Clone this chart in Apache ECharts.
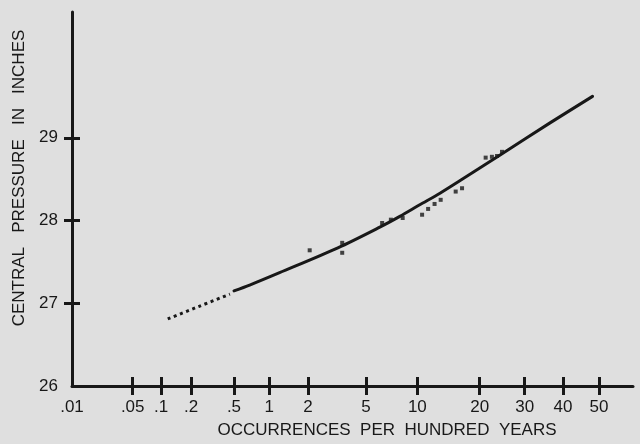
<!DOCTYPE html>
<html><head><meta charset="utf-8">
<script src="https://cdn.jsdelivr.net/npm/echarts@6/dist/echarts.min.js"></script>
<style>html,body{margin:0;padding:0;background:#dfdfdf}#c{width:640px;height:444px}</style>
</head><body><div id="c"></div>
<script>
// Occurrences per hundred years (x, normal-probability scale) and central pressure in inches (y)
const xTickValues = [0.01, 0.05, 0.1, 0.2, 0.5, 1, 2, 5, 10, 20, 30, 40, 50];
const xTickLabels = ['.01', '.05', '.1', '.2', '.5', '1', '2', '5', '10', '20', '30', '40', '50'];
const xRangeN = [0.01, 59.5];
const yTickValues = [26, 27, 28, 29];
const yRange = [26, 30.52];

const solidCurveN = [0.50, 0.685, 1.21, 3.27, 6.1, 8.0, 10.3, 13.1, 16.3, 24.2, 36.5, 48.2];
const solidCurveP = [27.15, 27.22, 27.37, 27.67, 27.92, 28.05, 28.19, 28.33, 28.48, 28.79, 29.18, 29.50];
const dottedCurveN = [0.117, 0.236, 0.46];
const dottedCurveP = [26.81, 26.96, 27.11];
const obsN = [2.06, 3.5, 3.5, 6.3, 7.1, 8.3, 10.6, 11.4, 12.3, 13.2, 15.6, 16.7, 21.2, 22.5, 23.6, 24.7];
const obsP = [27.64, 27.73, 27.61, 27.97, 28.01, 28.03, 28.07, 28.14, 28.20, 28.25, 28.35, 28.39, 28.76, 28.77, 28.78, 28.83];

function probit(p) {
  const a = [-3.969683028665376e+01, 2.209460984245205e+02, -2.759285104469687e+02, 1.383577518672690e+02, -3.066479806614716e+01, 2.506628277459239e+00];
  const b = [-5.447609879822406e+01, 1.615858368580409e+02, -1.556989798598866e+02, 6.680131188771972e+01, -1.328068155288572e+01];
  const c = [-7.784894002430293e-03, -3.223964580411365e-01, -2.400758277161838e+00, -2.549732539343734e+00, 4.374664141464968e+00, 2.938163982698783e+00];
  const d = [7.784695709041462e-03, 3.224671290700398e-01, 2.445134137142996e+00, 3.754408661907416e+00];
  const pl = 0.02425, ph = 1 - pl;
  let q, r;
  if (p < pl) {
    q = Math.sqrt(-2 * Math.log(p));
    return (((((c[0]*q+c[1])*q+c[2])*q+c[3])*q+c[4])*q+c[5]) / ((((d[0]*q+d[1])*q+d[2])*q+d[3])*q+1);
  }
  if (p <= ph) {
    q = p - 0.5; r = q * q;
    return (((((a[0]*r+a[1])*r+a[2])*r+a[3])*r+a[4])*r+a[5])*q / (((((b[0]*r+b[1])*r+b[2])*r+b[3])*r+b[4])*r+1);
  }
  q = Math.sqrt(-2 * Math.log(1 - p));
  return -(((((c[0]*q+c[1])*q+c[2])*q+c[3])*q+c[4])*q+c[5]) / ((((d[0]*q+d[1])*q+d[2])*q+d[3])*q+1);
}
const pos = n => probit(n / 100);
const zip = (xs, ys) => xs.map((x, i) => [pos(x), ys[i]]);

const INK = '#181818';
const FONT = 'Liberation Sans, Arial, sans-serif';
const xTickPos = xTickValues.map(pos);
const xLabelFmt = v => {
  for (let i = 0; i < xTickPos.length; i++) if (Math.abs(xTickPos[i] - v) < 1e-6) return xTickLabels[i];
  return '';
};

const xBase = {
  type: 'value', min: pos(xRangeN[0]), max: pos(xRangeN[1]), position: 'bottom',
  splitLine: { show: false }
};
const yBase = {
  type: 'value', min: yRange[0], max: yRange[1], position: 'left',
  splitLine: { show: false }
};

const chart = echarts.init(document.getElementById('c'), null, { renderer: 'canvas' });
chart.setOption({
  backgroundColor: '#dfdfdf',
  animation: false,
  grid: { left: 72, right: 7, top: 12, bottom: 54 },
  xAxis: [
    Object.assign({}, xBase, {
      name: 'OCCURRENCES  PER  HUNDRED  YEARS',
      nameLocation: 'middle', nameGap: 36,
      nameTextStyle: { color: INK, fontFamily: FONT, fontSize: 17, padding: [0, 0, 0, 69] },
      axisLine: { show: true, onZero: false, lineStyle: { color: INK, width: 3 } },
      axisTick: { show: true, inside: false, length: 9, lineStyle: { color: INK, width: 3 },
        customValues: xTickPos.slice(1) },
      axisLabel: { show: true, margin: 13, color: INK, fontFamily: FONT, fontSize: 17,
        customValues: xTickPos, formatter: xLabelFmt }
    }),
    Object.assign({}, xBase, {
      axisLine: { show: false, onZero: false },
      axisTick: { show: true, inside: true, length: 9, lineStyle: { color: INK, width: 3 },
        customValues: xTickPos.slice(1) },
      axisLabel: { show: false }
    })
  ],
  yAxis: [
    Object.assign({}, yBase, {
      name: 'CENTRAL   PRESSURE   IN   INCHES',
      nameLocation: 'middle', nameGap: 39,
      nameTextStyle: { color: INK, fontFamily: FONT, fontSize: 17, padding: [0, 0, 0, 42] },
      axisLine: { show: true, onZero: false, lineStyle: { color: INK, width: 3 } },
      axisTick: { show: true, inside: false, length: 8, lineStyle: { color: INK, width: 3 },
        customValues: yTickValues.slice(1) },
      axisLabel: { show: true, margin: 14, color: INK, fontFamily: FONT, fontSize: 17,
        customValues: yTickValues }
    }),
    Object.assign({}, yBase, {
      axisLine: { show: false, onZero: false },
      axisTick: { show: true, inside: true, length: 8, lineStyle: { color: INK, width: 3 },
        customValues: yTickValues.slice(1) },
      axisLabel: { show: false }
    })
  ],
  series: [
    {
      type: 'line', xAxisIndex: 0, yAxisIndex: 0,
      data: zip(solidCurveN, solidCurveP), smooth: 0.3, showSymbol: false,
      lineStyle: { color: INK, width: 3, cap: 'round' }
    },
    {
      type: 'line', xAxisIndex: 0, yAxisIndex: 0,
      data: zip(dottedCurveN, dottedCurveP), smooth: 0.3, showSymbol: false,
      lineStyle: { color: INK, width: 3, type: [3, 3.6], cap: 'butt' }
    },
    {
      type: 'scatter', xAxisIndex: 0, yAxisIndex: 0,
      data: zip(obsN, obsP), symbol: 'rect', symbolSize: 4,
      itemStyle: { color: INK }
    }
  ]
});
</script>
</body></html>
